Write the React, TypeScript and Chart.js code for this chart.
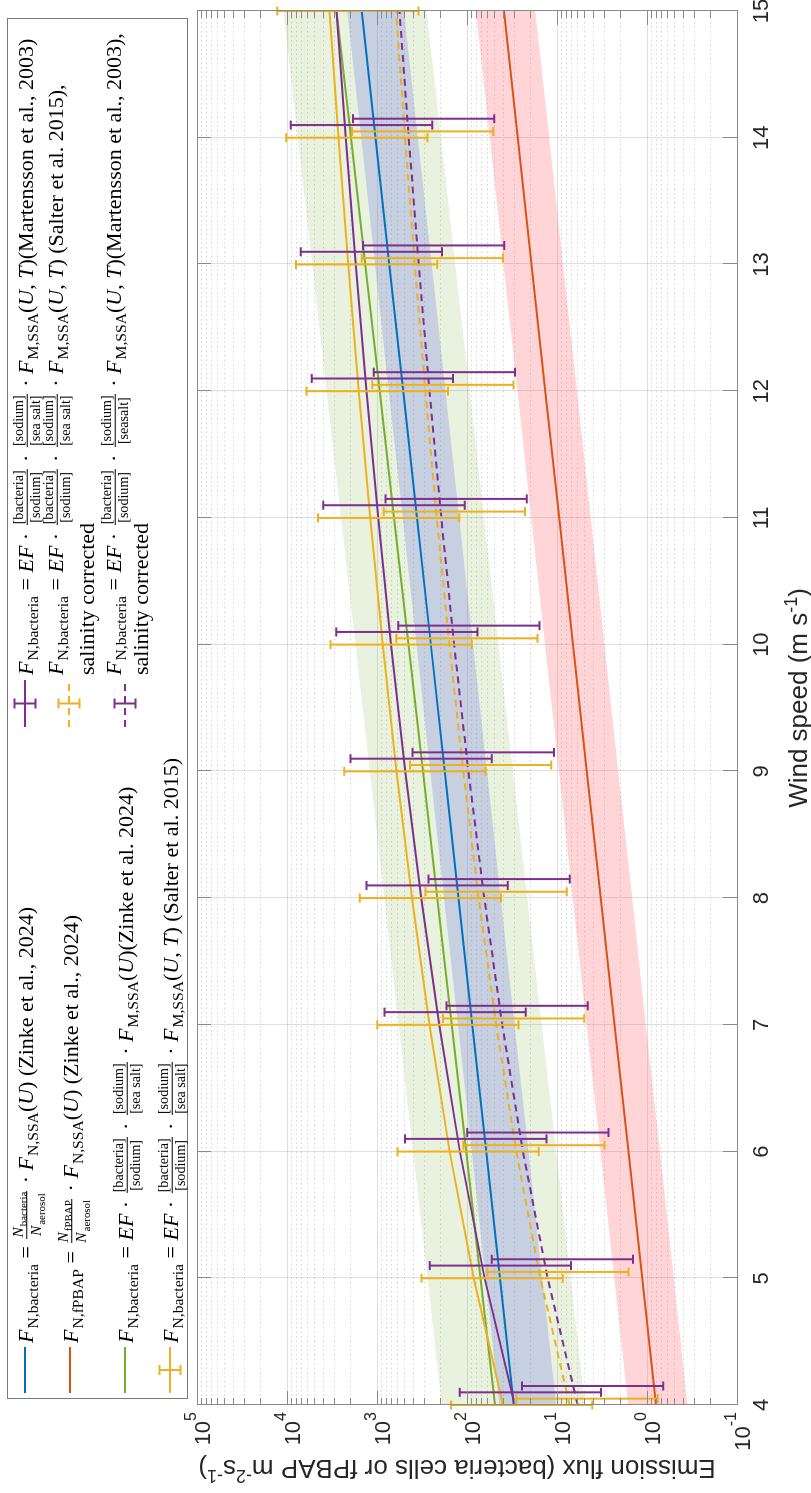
import React, { useEffect, useRef } from 'react';
import { Chart, registerables } from 'chart.js';

Chart.register(...registerables);

// ---------------- data ----------------
const windSpeeds = [4, 5, 6, 7, 8, 9, 10, 11, 12, 13, 14, 15];
const windTicks = [4, 5, 6, 7, 8, 9, 10, 11, 12, 13, 14, 15];
const fluxDecades = [-1, 0, 1, 2, 3, 4, 5];
const fluxTickLabels = ['-1', '0', '1', '2', '3', '4', '5'];

// Zinke et al. 2024, N_bacteria/N_aerosol * F_N,SSA(U)
const zinkeBacteria = [30.2, 43.1, 61.2, 87.3, 124, 177, 252, 359, 512, 730, 1038, 1479];
const zinkeBacteriaUpper = [43.7, 62.2, 88.5, 126, 180, 256, 365, 519, 740, 1054, 1500, 2138];
const zinkeBacteriaLower = [10.2, 14.6, 20.7, 29.6, 42.2, 60.0, 85.5, 122, 173, 247, 352, 501];

// Zinke et al. 2024, fPBAP
const zinkeFpbap = [0.794, 1.13, 1.61, 2.3, 3.27, 4.66, 6.64, 9.44, 13.5, 19.2, 27.3, 38.9];
const zinkeFpbapUpper = [1.62, 2.31, 3.29, 4.69, 6.68, 9.51, 13.6, 19.3, 27.5, 39.2, 55.7, 79.4];
const zinkeFpbapLower = [0.355, 0.506, 0.719, 1.03, 1.46, 2.08, 2.96, 4.22, 6.01, 8.57, 12.2, 17.4];

// EF approach with F_M,SSA(U) (Zinke et al. 2024)
const efZinke = [49.0, 70.8, 102, 148, 214, 309, 447, 646, 933, 1349, 1950, 2818];
const efZinkeUpper = [191, 275, 398, 575, 832, 1202, 1738, 2512, 3631, 5248, 7586, 10965];
const efZinkeLower = [4.9, 7.08, 10.2, 14.8, 21.4, 30.9, 44.7, 64.6, 93.3, 135, 195, 282];

// EF approach with F_M,SSA(U,T) (Salter et al. 2015)
const efSalter = [39.8, 84.3, 156, 261, 408, 607, 865, 1191, 1596, 2089, 2679, 3381];
const efSalterHigh = [151, 321, 592, 991, 1552, 2307, 3289, 4529, 6067, 7943, 10186, 12853];
const efSalterLow = [4.07, 8.63, 15.9, 26.7, 41.8, 62.1, 88.5, 122, 163, 214, 274, 346];

// Salter, salinity corrected
const efSalterSal = [7.24, 15.3, 28.3, 47.4, 74.3, 110, 157, 217, 290, 380, 488, 615];
const efSalterSalHigh = [28.2, 59.7, 110, 185, 289, 430, 612, 843, 1130, 1479, 1897, 2393];
const efSalterSalLow = [0.759, 1.61, 2.96, 4.97, 7.78, 11.6, 16.5, 22.7, 30.4, 39.8, 51.1, 64.4];

// EF approach with F_M,SSA(U,T) (Martensson et al. 2003)
const efMartensson = [29.5, 63.7, 120, 203, 322, 484, 697, 968, 1306, 1722, 2223, 2818];
const efMartenssonHigh = [120, 259, 488, 828, 1312, 1972, 2838, 3945, 5321, 7015, 9057, 11482];
const efMartenssonLow = [3.24, 6.98, 13.1, 22.3, 35.3, 53.1, 76.4, 106, 143, 189, 244, 309];

// Martensson, salinity corrected
const efMartenssonSal = [5.89, 12.7, 23.9, 40.6, 64.3, 96.6, 139, 193, 261, 344, 444, 562];
const efMartenssonSalHigh = [24.5, 53.0, 99.5, 169, 268, 403, 579, 805, 1086, 1432, 1849, 2344];
const efMartenssonSalLow = [0.661, 1.43, 2.68, 4.55, 7.21, 10.8, 15.6, 21.7, 29.2, 38.5, 49.8, 63.1];

// error-bar horizontal jitter (wind-speed units)
const jitterSalter = 0;
const jitterSalterSal = 0.05;
const jitterMartensson = 0.1;
const jitterMartenssonSal = 0.15;

// ---------------- styles ----------------
const BLUE = '#0072BD';
const RED = '#D95319';
const YELLOW = '#EDB120';
const PURPLE = '#7E2F8E';
const GREEN = '#77AC30';
const SANS = '"Liberation Sans", Arial, Helvetica, sans-serif';
const SERIF = '"Liberation Serif", "Times New Roman", serif';
const W = 1493;
const H = 811;

type Part = { t: string; sup?: boolean };

function drawParts(ctx: CanvasRenderingContext2D, parts: Part[], x: number, baseline: number, align: string, baseFont: string, supFont: string, raise: number) {
  let total = 0;
  const widths = parts.map((p) => {
    ctx.font = p.sup ? supFont : baseFont;
    const w = ctx.measureText(p.t).width;
    total += w;
    return w;
  });
  let cx = align === 'center' ? x - total / 2 : align === 'right' ? x - total : x;
  ctx.textAlign = 'left';
  ctx.textBaseline = 'alphabetic';
  parts.forEach((p, i) => {
    ctx.font = p.sup ? supFont : baseFont;
    ctx.fillText(p.t, cx, p.sup ? baseline - raise : baseline);
    cx += widths[i];
  });
}

const figurePlugin = {
  id: 'figurePlugin',
  beforeDatasetsDraw(chart: any) {
    const { ctx, chartArea: a } = chart;
    const xs = chart.scales.x;
    const ys = chart.scales.y;
    ctx.save();
    ctx.lineWidth = 1;
    ctx.strokeStyle = 'rgba(38,38,38,0.2)';
    ctx.setLineDash([1.5, 3]);
    for (let k = 0; k < fluxDecades.length - 1; k++) {
      for (let m = 2; m <= 9; m++) {
        const py = Math.round(ys.getPixelForValue(m * Math.pow(10, fluxDecades[k]))) + 0.5;
        ctx.beginPath();
        ctx.moveTo(a.left, py);
        ctx.lineTo(a.right, py);
        ctx.stroke();
      }
    }
    ctx.setLineDash([]);
    ctx.strokeStyle = 'rgba(38,38,38,0.15)';
    fluxDecades.forEach((e) => {
      const py = Math.round(ys.getPixelForValue(Math.pow(10, e))) + 0.5;
      ctx.beginPath();
      ctx.moveTo(a.left, py);
      ctx.lineTo(a.right, py);
      ctx.stroke();
    });
    windTicks.forEach((w) => {
      const px = Math.round(xs.getPixelForValue(w)) + 0.5;
      ctx.beginPath();
      ctx.moveTo(px, a.top);
      ctx.lineTo(px, a.bottom);
      ctx.stroke();
    });
    ctx.restore();
  },
  afterDatasetsDraw(chart: any) {
    const { ctx, chartArea: a } = chart;
    const xs = chart.scales.x;
    const ys = chart.scales.y;
    ctx.save();
    // error bars
    chart.data.datasets.forEach((ds: any) => {
      const eb = ds.errorBars;
      if (!eb) return;
      ctx.strokeStyle = ds.borderColor;
      ctx.lineWidth = 2;
      ctx.setLineDash([]);
      const cap = 4.5;
      windSpeeds.forEach((w, i) => {
        const xv = w + eb.offset;
        if (xv > xs.max + 1e-9) return;
        const px = xs.getPixelForValue(xv);
        const ph = ys.getPixelForValue(eb.high[i]);
        const pl = ys.getPixelForValue(eb.low[i]);
        ctx.beginPath();
        ctx.moveTo(px, ph);
        ctx.lineTo(px, pl);
        ctx.moveTo(px - cap, ph);
        ctx.lineTo(px + cap, ph);
        ctx.moveTo(px - cap, pl);
        ctx.lineTo(px + cap, pl);
        ctx.stroke();
      });
    });
    // frame
    ctx.strokeStyle = '#8a8a8a';
    ctx.lineWidth = 1;
    ctx.strokeRect(Math.round(a.left) + 0.5, Math.round(a.top) + 0.5, Math.round(a.right - a.left), Math.round(a.bottom - a.top));
    // ticks
    const major = 14;
    const minor = 7;
    ctx.beginPath();
    windTicks.forEach((w) => {
      const px = Math.round(xs.getPixelForValue(w)) + 0.5;
      ctx.moveTo(px, a.bottom);
      ctx.lineTo(px, a.bottom - major);
      ctx.moveTo(px, a.top);
      ctx.lineTo(px, a.top + major);
    });
    fluxDecades.forEach((e, k) => {
      const py = Math.round(ys.getPixelForValue(Math.pow(10, e))) + 0.5;
      ctx.moveTo(a.left, py);
      ctx.lineTo(a.left + major, py);
      ctx.moveTo(a.right, py);
      ctx.lineTo(a.right - major, py);
      if (k < fluxDecades.length - 1) {
        for (let m = 2; m <= 9; m++) {
          const pm = Math.round(ys.getPixelForValue(m * Math.pow(10, e))) + 0.5;
          ctx.moveTo(a.left, pm);
          ctx.lineTo(a.left + minor, pm);
          ctx.moveTo(a.right, pm);
          ctx.lineTo(a.right - minor, pm);
        }
      }
    });
    ctx.stroke();
    ctx.restore();
  },
  afterDraw(chart: any) {
    const { ctx, chartArea: a } = chart;
    const xs = chart.scales.x;
    const ys = chart.scales.y;
    ctx.save();
    ctx.fillStyle = '#262626';
    // wind speed tick labels
    ctx.font = `22px ${SANS}`;
    ctx.textAlign = 'center';
    ctx.textBaseline = 'middle';
    windTicks.forEach((w) => {
      ctx.fillText(String(w), xs.getPixelForValue(w), a.bottom + 25);
    });
    // flux tick labels
    fluxDecades.forEach((e, k) => {
      const py = ys.getPixelForValue(Math.pow(10, e));
      drawParts(ctx, [{ t: '10' }, { t: fluxTickLabels[k], sup: true }], a.left - 7, py + 13, 'right', `22px ${SANS}`, `16px ${SANS}`, 14);
    });
    // x title
    drawParts(
      ctx,
      [{ t: 'Wind speed (m s' }, { t: '-1', sup: true }, { t: ')' }],
      (a.left + a.right) / 2 + 10,
      a.bottom + 70,
      'center',
      `26px ${SANS}`,
      `18px ${SANS}`,
      10
    );
    // y title
    ctx.translate(24, (a.top + a.bottom) / 2 - 10);
    ctx.rotate(-Math.PI / 2);
    drawParts(
      ctx,
      [
        { t: 'Emission flux (bacteria cells or fPBAP m' },
        { t: '-2', sup: true },
        { t: 's' },
        { t: '-1', sup: true },
        { t: ')' },
      ],
      0,
      9,
      'center',
      `26px ${SANS}`,
      `18px ${SANS}`,
      10
    );
    ctx.restore();
  },
};

// ---------------- legend pieces ----------------
const Sub = ({ children }: any) => (
  <span style={{ fontSize: '0.71em', position: 'relative', top: '0.32em', marginLeft: 1 }}>{children}</span>
);
const Fs = ({ s }: any) => (
  <>
    <i>F</i>
    <Sub>{s}</Sub>
  </>
);
const Frac = ({ n, d, size }: any) => (
  <span
    style={{
      display: 'inline-flex',
      flexDirection: 'column',
      alignItems: 'center',
      verticalAlign: 'middle',
      fontSize: size || '0.64em',
      lineHeight: 1.12,
      margin: '0 2px',
      position: 'relative',
      top: '-0.05em',
    }}
  >
    <span style={{ borderBottom: '1px solid #000', padding: '0 1px' }}>{n}</span>
    <span style={{ padding: '0 1px' }}>{d}</span>
  </span>
);
const Row = ({ x, y, children }: any) => (
  <div
    style={{
      position: 'absolute',
      left: x,
      top: y,
      transform: 'translateY(-50%)',
      whiteSpace: 'nowrap',
      fontFamily: SERIF,
      fontSize: 22,
      lineHeight: '24px',
      color: '#000',
    }}
  >
    {children}
  </div>
);
const Marker = ({ x, y, w, color, dashed, err }: any) => (
  <svg style={{ position: 'absolute', left: x, top: y - 12 }} width={w} height={24}>
    <line x1={0} y1={12} x2={w} y2={12} stroke={color} strokeWidth={2} strokeDasharray={dashed ? '7 5' : undefined} />
    {err ? (
      <g stroke={color} strokeWidth={2}>
        <line x1={w / 2} y1={1.5} x2={w / 2} y2={22.5} />
        <line x1={w / 2 - 5} y1={1.5} x2={w / 2 + 5} y2={1.5} />
        <line x1={w / 2 - 5} y1={22.5} x2={w / 2 + 5} y2={22.5} />
      </g>
    ) : null}
  </svg>
);

const EFPart = ({ ss }: any) => (
  <>
    <Fs s="N,bacteria" /> = <i>EF</i> · <Frac n="[bacteria]" d="[sodium]" /> · <Frac n="[sodium]" d={ss} /> ·{' '}
  </>
);

const NFrac = ({ top }: any) => (
  <Frac
    size="0.7em"
    n={
      <>
        <i>N</i>
        <Sub>{top}</Sub>
      </>
    }
    d={
      <>
        <i>N</i>
        <Sub>aerosol</Sub>
      </>
    }
  />
);

const Legend = () => (
  <div
    style={{
      position: 'absolute',
      left: 94,
      top: 7,
      width: 1381,
      height: 181,
      border: '1px solid #7a7a7a',
      boxSizing: 'border-box',
      background: '#fff',
    }}
  >
    <div style={{ position: 'absolute', left: -95, top: -5 }}>
      <Marker x={100} y={22} w={46} color={BLUE} />
      <Row x={150} y={25}>
        <Fs s="N,bacteria" /> = <NFrac top="bacteria" /> · <Fs s="N,SSA" />(<i>U</i>) (Zinke et al., 2024)
      </Row>
      <Marker x={100} y={67} w={46} color={RED} />
      <Row x={150} y={70}>
        <Fs s="N,fPBAP" /> = <NFrac top="fPBAP" /> · <Fs s="N,SSA" />(<i>U</i>) (Zinke et al., 2024)
      </Row>
      <Marker x={100} y={122} w={46} color={GREEN} />
      <Row x={150} y={125}>
        <EFPart ss="[sea salt]" />
        <Fs s="M,SSA" />(<i>U</i>)(Zinke et al. 2024)
      </Row>
      <Marker x={100} y={167} w={46} color={YELLOW} err />
      <Row x={150} y={170}>
        <EFPart ss="[sea salt]" />
        <Fs s="M,SSA" />(<i>U</i>, <i>T</i>) (Salter et al. 2015)
      </Row>

      <Marker x={766} y={22} w={47} color={PURPLE} err />
      <Row x={818} y={25}>
        <EFPart ss="[sea salt]" />
        <Fs s="M,SSA" />(<i>U</i>, <i>T</i>)(Martensson et al., 2003)
      </Row>
      <Marker x={766} y={66} w={47} color={YELLOW} dashed err />
      <Row x={818} y={55}>
        <EFPart ss="[sea salt]" />
        <Fs s="M,SSA" />(<i>U</i>, <i>T</i>) (Salter et al. 2015),
      </Row>
      <Row x={818} y={84}>salinity corrected</Row>
      <Marker x={766} y={122} w={47} color={PURPLE} dashed err />
      <Row x={818} y={113}>
        <EFPart ss="[seasalt]" />
        <Fs s="M,SSA" />(<i>U</i>, <i>T</i>)(Martensson et al., 2003),
      </Row>
      <Row x={818} y={138}>salinity corrected</Row>
    </div>
  </div>
);

const pts = (vals: number[]) => windSpeeds.map((w, i) => ({ x: w, y: vals[i] }));

export default function App() {
  const ref = useRef<HTMLCanvasElement>(null);
  useEffect(() => {
    const line = (vals: number[], color: string, order: number, extra: any = {}) => ({
      data: pts(vals),
      borderColor: color,
      backgroundColor: color,
      borderWidth: 2,
      pointRadius: 0,
      tension: 0,
      fill: false,
      order,
      ...extra,
    });
    const band = (vals: number[], color: string, order: number, fill: any) => ({
      data: pts(vals),
      borderWidth: 0,
      borderColor: 'rgba(0,0,0,0)',
      backgroundColor: color,
      pointRadius: 0,
      tension: 0,
      fill,
      order,
    });
    const chart = new Chart(ref.current as HTMLCanvasElement, {
      type: 'line',
      data: {
        datasets: [
          band(efZinkeUpper, 'rgba(119,172,48,0.16)', 30, '+1'),
          band(efZinkeLower, 'rgba(0,0,0,0)', 31, false),
          band(zinkeBacteriaUpper, 'rgba(118,129,227,0.30)', 20, '+1'),
          band(zinkeBacteriaLower, 'rgba(0,0,0,0)', 21, false),
          band(zinkeFpbapUpper, 'rgba(255,100,110,0.27)', 20, '+1'),
          band(zinkeFpbapLower, 'rgba(0,0,0,0)', 21, false),
          line(zinkeBacteria, BLUE, 5),
          line(zinkeFpbap, RED, 5),
          line(efZinke, GREEN, 4),
          line(efSalter, YELLOW, 3, { errorBars: { offset: jitterSalter, low: efSalterLow, high: efSalterHigh } }),
          line(efSalterSal, YELLOW, 3, {
            borderDash: [7, 5],
            errorBars: { offset: jitterSalterSal, low: efSalterSalLow, high: efSalterSalHigh },
          }),
          line(efMartensson, PURPLE, 2, {
            errorBars: { offset: jitterMartensson, low: efMartenssonLow, high: efMartenssonHigh },
          }),
          line(efMartenssonSal, PURPLE, 2, {
            borderDash: [7, 5],
            errorBars: { offset: jitterMartenssonSal, low: efMartenssonSalLow, high: efMartenssonSalHigh },
          }),
        ] as any,
      },
      options: {
        animation: false,
        responsive: false,
        maintainAspectRatio: false,
        devicePixelRatio: 1,
        events: [],
        layout: { autoPadding: false, padding: { left: 88, right: 11, top: 197, bottom: 74 } } as any,
        plugins: { legend: { display: false }, tooltip: { enabled: false }, title: { display: false } },
        scales: {
          x: {
            type: 'linear',
            min: 4,
            max: 15,
            grid: { display: false },
            border: { display: false },
            ticks: { display: false },
            afterFit: (s: any) => {
              s.height = 0;
            },
          },
          y: {
            type: 'logarithmic',
            min: 0.1,
            max: 100000,
            grid: { display: false },
            border: { display: false },
            ticks: { display: false },
            afterFit: (s: any) => {
              s.width = 0;
            },
          },
        },
      } as any,
      plugins: [figurePlugin],
    });
    return () => chart.destroy();
  }, []);

  return (
    <div style={{ position: 'absolute', left: 0, top: 0, width: 811, height: 1493, overflow: 'hidden', background: '#fff' }}>
      <div
        style={{
          position: 'absolute',
          left: 0,
          top: 0,
          width: W,
          height: H,
          transformOrigin: '0 0',
          transform: `translate(0px, ${W}px) rotate(-90deg)`,
        }}
      >
        <canvas ref={ref} width={W} height={H} style={{ position: 'absolute', left: 0, top: 0, width: W, height: H }} />
        <Legend />
      </div>
    </div>
  );
}
